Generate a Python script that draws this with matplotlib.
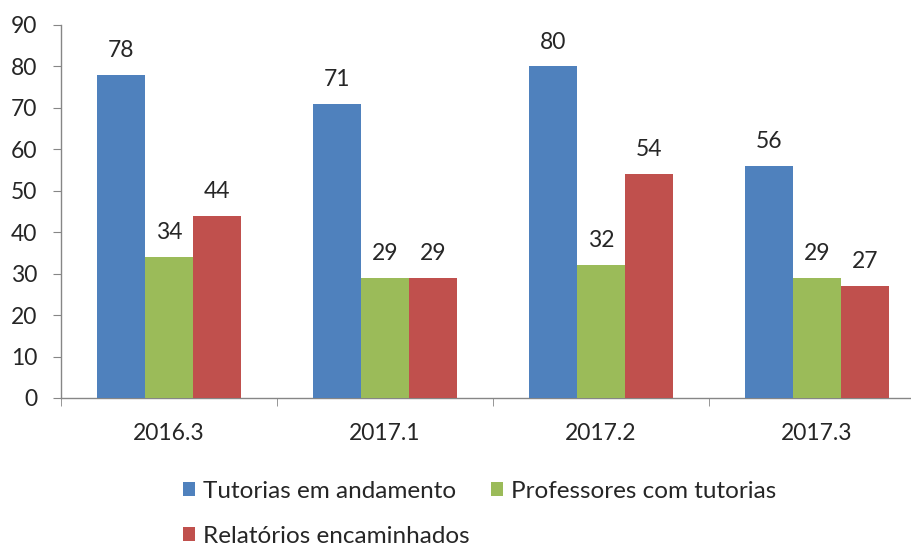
import matplotlib.pyplot as plt
import numpy as np

categories = ['2016.3', '2017.1', '2017.2', '2017.3']
tutorias = [78, 71, 80, 56]
professores = [34, 29, 32, 29]
relatorios = [44, 29, 54, 27]

series_names = ['Tutorias em andamento', 'Professores com tutorias', 'Relatórios encaminhados']
colors = ['#4F81BD', '#9BBB59', '#C0504D']

plt.rcParams['font.family'] = ['Lato', 'DejaVu Sans']

fig = plt.figure(figsize=(9.12, 5.47), dpi=100)
# the category axis runs a bit past the right edge, as in the original
ax = fig.add_axes([0.0669, 0.2724, 0.9474, 0.682])

x = np.arange(len(categories))
w = 0.221
bars = []
for i, (vals, name, c) in enumerate(zip([tutorias, professores, relatorios], series_names, colors)):
    b = ax.bar(x + (i - 1) * w, vals, w, color=c, label=name, zorder=3)
    ax.bar_label(b, padding=10, fontsize=16.5, color='#262626')
    bars.append(b)

ax.set_xlim(-0.5, 3.5)
ax.set_ylim(0, 90)
ax.set_yticks(range(0, 91, 10))
ax.set_xticks(x)
ax.set_xticklabels(categories)
ax.set_xticks(np.arange(-0.5, 4, 1), minor=True)

for s in ['top', 'right']:
    ax.spines[s].set_visible(False)
for s in ['left', 'bottom']:
    ax.spines[s].set_color('#868686')
    ax.spines[s].set_linewidth(1)

ax.tick_params(axis='y', length=6, color='#868686', labelsize=16.5, labelcolor='#262626', pad=11)
ax.tick_params(axis='x', which='major', length=0, labelsize=16.5, labelcolor='#262626', pad=18)
ax.tick_params(axis='x', which='minor', length=6, color='#868686')

handles = [bars[0], bars[2], bars[1]]
labels = [series_names[0], series_names[2], series_names[1]]
fig.legend(handles, labels, ncol=2, loc='lower left', bbox_to_anchor=(0.177, -0.04),
           frameon=False, fontsize=17.5, handlelength=0.5, handleheight=0.5,
           handletextpad=0.3, columnspacing=0.9, labelspacing=1.0, labelcolor='#262626')

fig.savefig('out.png', dpi=100)
